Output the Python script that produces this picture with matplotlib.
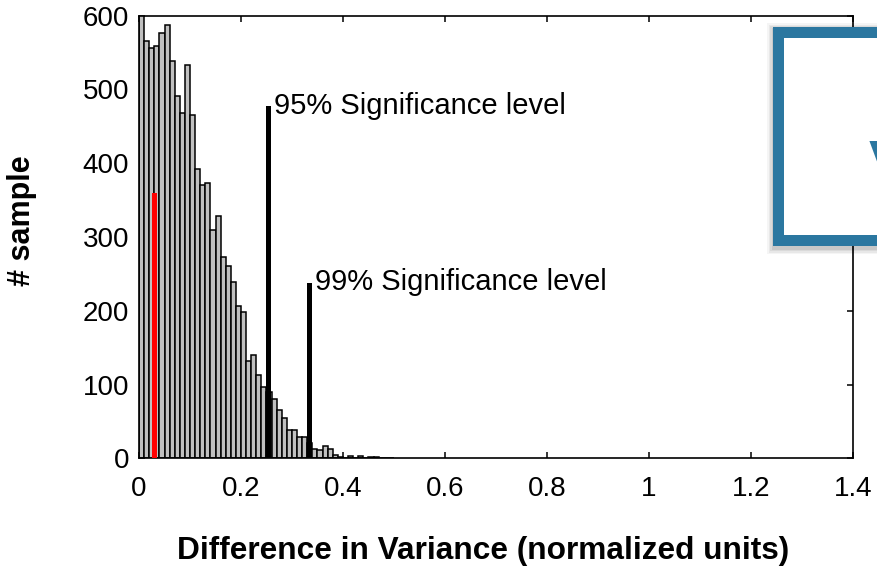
#!/usr/bin/env python3
# -*- coding: utf-8 -*-
"""Histogram of variance differences with 95% / 99% significance markers."""

import numpy as np
import matplotlib
matplotlib.use("Agg")
import matplotlib.pyplot as plt
from matplotlib.patches import Rectangle

plt.rcParams["font.family"] = ["Liberation Sans", "DejaVu Sans"]

# histogram counts, bins of width 0.01 starting at 0
BIN_WIDTH = 0.01
counts = [605, 566, 556, 559, 577, 587, 538, 491, 468, 533,
          465, 392, 371, 373, 309, 328, 273, 261, 239, 206,
          199, 132, 140, 113, 97, 90, 80, 66, 54, 39,
          38, 29, 29, 21, 13, 11, 17, 13, 5, 2,
          1, 3, 1, 3, 1, 2, 2, 1, 1, 0]

# observed value (red) and significance thresholds (black)
observed_x = 0.0305
observed_count = 360
sig_labels = ["95% Significance level", "99% Significance level"]
sig_x = [0.2545, 0.3337]
sig_height = [477, 238]

x_ticks = [0, 0.2, 0.4, 0.6, 0.8, 1.0, 1.2, 1.4]
x_tick_labels = ["0", "0.2", "0.4", "0.6", "0.8", "1", "1.2", "1.4"]
y_ticks = [0, 100, 200, 300, 400, 500, 600]

BLUE = "#2b77a0"

fig = plt.figure(figsize=(8.77, 5.8), dpi=100)
ax = fig.add_axes([0.1585, 0.2098, 0.8141, 0.7631])

edges = np.arange(len(counts)) * BIN_WIDTH
ax.bar(edges, counts, width=BIN_WIDTH, align="edge", color="#c0c0c0",
       edgecolor="black", linewidth=1.1, zorder=2)

ax.bar(observed_x, observed_count, width=0.011, color="#ff0000",
       linewidth=0, zorder=3)

for label, x, h in zip(sig_labels, sig_x, sig_height):
    ax.bar(x, h, width=0.0095, color="black", linewidth=0, zorder=3)
    ax.annotate(label, xy=(x + 0.005, h), xytext=(2, -5.5),
                textcoords="offset points", ha="left", va="baseline",
                fontsize=21, zorder=4)

ax.set_xlim(0, 1.4)
ax.set_ylim(0, 600)
ax.set_xticks(x_ticks)
ax.set_xticklabels(x_tick_labels)
ax.set_yticks(y_ticks)
ax.tick_params(direction="in", length=4, width=1.1, labelsize=20,
               top=True, right=True, pad=7)
ax.tick_params(axis="x", pad=13)
for sp in ax.spines.values():
    sp.set_linewidth(1.2)

ax.set_xlabel("Difference in Variance (normalized units)", fontsize=22.8,
              fontweight="bold")
ax.xaxis.set_label_coords(0.482, -0.176)
ax.xaxis.label.set_va("top")
fig.text(22 / 877, 1 - 221 / 580, "# sample", rotation=90, ha="center",
         va="center", fontsize=22, fontweight="bold")

# framed panel overlapping the top right corner (with a soft shadow)
x0, y0, y1 = 773.3 / 877, 1 - 246 / 580, 1 - 27.3 / 580
for i, a in enumerate([0.04, 0.05, 0.06, 0.08]):
    pad = (4 - i) * 1.5
    fig.patches.append(Rectangle((x0 - pad / 877, y0 - (pad + 2) / 580),
                                 0.3, (y1 - y0) + (2 * pad) / 580,
                                 transform=fig.transFigure, color="black",
                                 alpha=a, linewidth=0, zorder=5))
fig.patches.append(Rectangle((x0, y0), 0.3, y1 - y0, transform=fig.transFigure,
                             color=BLUE, linewidth=0, zorder=6))
fig.patches.append(Rectangle((784.3 / 877, 1 - 235.3 / 580), 0.3,
                             (235.3 - 38.3) / 580, transform=fig.transFigure,
                             color="white", linewidth=0, zorder=7))
fig.text(869 / 877, 1 - 139 / 580, "V", color=BLUE, fontsize=44,
         fontweight="bold", ha="left", va="top", zorder=8)

fig.savefig("out.png", dpi=100)
